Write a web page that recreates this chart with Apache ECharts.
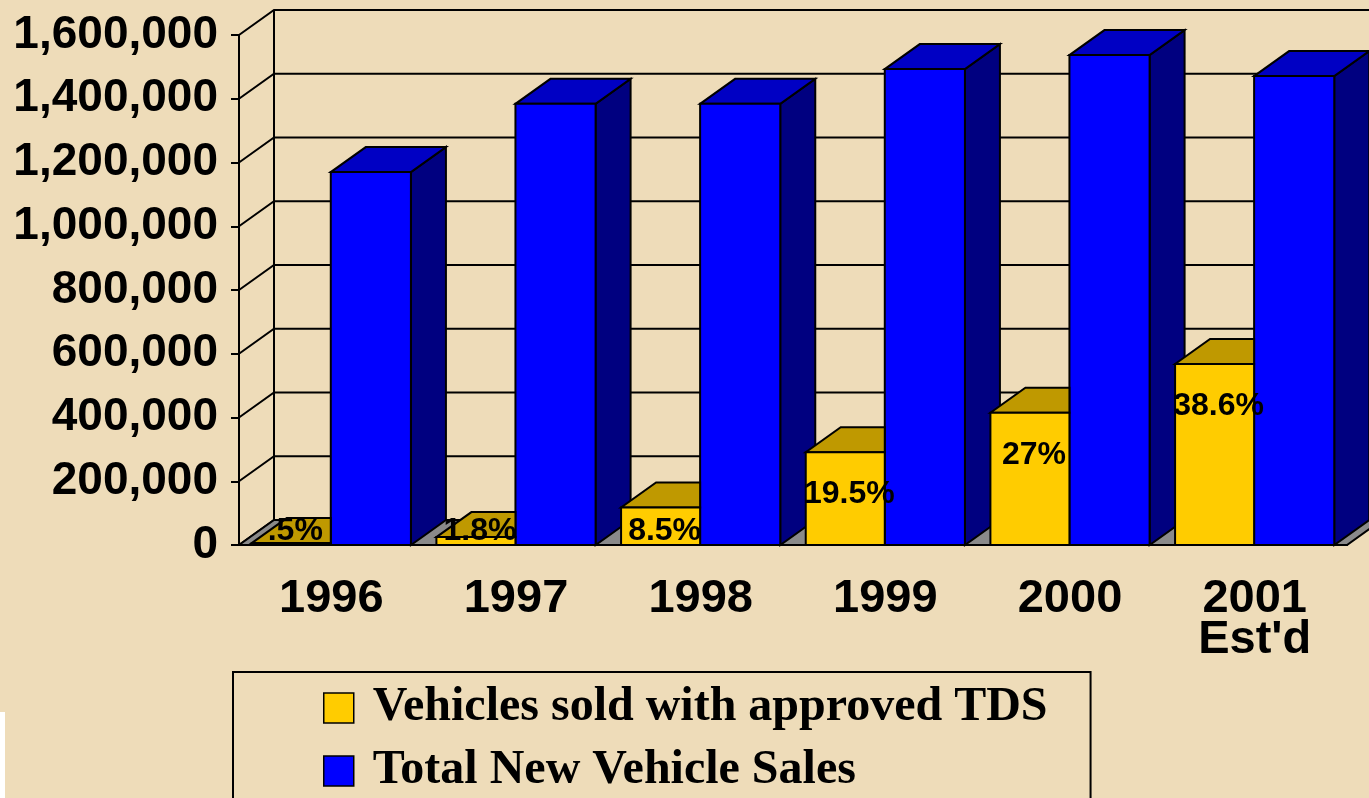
<!DOCTYPE html>
<html>
<head>
<meta charset="utf-8">
<script src="https://cdn.jsdelivr.net/npm/echarts@6/dist/echarts.min.js"></script>
<style>
  html, body { margin: 0; padding: 0; background: #eedcb9; }
  #chart { width: 1369px; height: 798px; }
</style>
</head>
<body>
<div id="chart"></div>
<script>
const years = ["1996", "1997", "1998", "1999", "2000", "2001\nEst'd"];
const totalSales = [1170000, 1384000, 1384000, 1493000, 1537000, 1471000];
const tdsSales = [5900, 24900, 117600, 291000, 415000, 568000];
const tdsShare = [".5%", "1.8%", "8.5%", "19.5%", "27%", "38.6%"];
const yTicks = [0, 200000, 400000, 600000, 800000, 1000000, 1200000, 1400000, 1600000];

// oblique depth of the 3d box
const DX = 35;
const DY = -25;

const chart = echarts.init(document.getElementById("chart"));

function barGeom(api, f0, f1) {
  const i = api.value(0);
  const base = api.coord([i, 0]);
  const top = api.coord([i, api.value(1)]);
  const bw = api.size([1, 0])[0];
  const start = base[0] - bw / 2;
  return { x1: start + f0 * bw, x2: start + f1 * bw, y0: base[1], y1: top[1] };
}

const edge = { stroke: "#000", lineWidth: 2 };

const option = {
  backgroundColor: "#eedcb9",
  animation: false,
  grid: { left: 239, right: 22, top: 35, height: 510 },
  legend: {
    left: 233,
    top: 672,
    height: 300,
    orient: "vertical",
    icon: "rect",
    itemWidth: 30,
    itemHeight: 30,
    itemGap: 15,
    padding: [12, 43, 50, 90],
    borderColor: "#000",
    borderWidth: 2,
    itemStyle: { borderColor: "#000", borderWidth: 1.5 },
    textStyle: {
      fontFamily: "Liberation Serif",
      fontWeight: "bold",
      fontSize: 48,
      color: "#000",
      padding: [0, 0, 0, 14],
    },
    data: ["Vehicles sold with approved TDS", "Total New Vehicle Sales"],
  },
  xAxis: {
    type: "category",
    data: years,
    axisLine: { lineStyle: { color: "#000", width: 2 } },
    axisTick: { length: 8, interval: 0, lineStyle: { color: "#000", width: 2 } },
    axisLabel: {
      interval: 0,
      margin: 34,
      color: "#000",
      fontFamily: "Liberation Sans",
      fontWeight: "bold",
      fontSize: 47,
      lineHeight: 41,
    },
  },
  yAxis: {
    type: "value",
    min: 0,
    max: 1600000,
    interval: 200000,
    splitLine: { show: false },
    axisLine: { show: true, lineStyle: { color: "#000", width: 2 } },
    axisTick: { show: true, length: 8, lineStyle: { color: "#000", width: 2 } },
    axisLabel: {
      margin: 21,
      padding: [6, 0, 0, 0],
      color: "#000",
      fontFamily: "Liberation Sans",
      fontWeight: "bold",
      fontSize: 46,
      formatter: (v) => v.toLocaleString("en-US"),
    },
  },
  series: [
    {
      name: "walls",
      type: "custom",
      z: 1,
      clip: false,
      silent: true,
      data: yTicks.map((v) => [0, v]),
      renderItem: (params, api) => {
        const cs = params.coordSys;
        const y = api.coord([0, api.value(1)])[1];
        const x0 = cs.x;
        const x1 = cs.x + cs.width;
        return {
          type: "polyline",
          shape: { points: [[x0, y], [x0 + DX, y + DY], [x1 + DX, y + DY]] },
          style: { stroke: "#000", lineWidth: 2, fill: null },
        };
      },
    },
    {
      name: "floor",
      type: "custom",
      z: 2,
      clip: false,
      silent: true,
      data: [[0, 0]],
      renderItem: (params, api) => {
        const cs = params.coordSys;
        const y0 = api.coord([0, 0])[1];
        const yTop = api.coord([0, yTicks[yTicks.length - 1]])[1];
        const x0 = cs.x;
        const x1 = cs.x + cs.width;
        return {
          type: "group",
          children: [
            {
              type: "line",
              shape: { x1: x0 + DX, y1: yTop + DY, x2: x0 + DX, y2: y0 + DY },
              style: { stroke: "#000", lineWidth: 2 },
            },
            {
              type: "polygon",
              shape: { points: [[x0, y0], [x1, y0], [x1 + DX, y0 + DY], [x0 + DX, y0 + DY]] },
              style: Object.assign({ fill: "#8a8a8a" }, edge),
            },
          ],
        };
      },
    },
    {
      name: "Total New Vehicle Sales",
      type: "custom",
      z: 3,
      clip: false,
      itemStyle: { color: "#0000ff" },
      data: totalSales.map((v, i) => [i, v]),
      renderItem: (params, api) => {
        const g = barGeom(api, 0.497, 0.931);
        return {
          type: "group",
          children: [
            {
              type: "polygon",
              shape: { points: [[g.x2, g.y1], [g.x2 + DX, g.y1 + DY], [g.x2 + DX, g.y0 + DY], [g.x2, g.y0]] },
              style: Object.assign({ fill: "#000080" }, edge),
            },
            {
              type: "polygon",
              shape: { points: [[g.x1, g.y1], [g.x2, g.y1], [g.x2 + DX, g.y1 + DY], [g.x1 + DX, g.y1 + DY]] },
              style: Object.assign({ fill: "#0000c4" }, edge),
            },
            {
              type: "rect",
              shape: { x: g.x1, y: g.y1, width: g.x2 - g.x1, height: g.y0 - g.y1 },
              style: Object.assign({ fill: "#0000ff" }, edge),
            },
          ],
        };
      },
    },
    {
      name: "Vehicles sold with approved TDS",
      type: "custom",
      z: 4,
      clip: false,
      itemStyle: { color: "#ffcc00" },
      data: tdsSales.map((v, i) => [i, v]),
      renderItem: (params, api) => {
        const g = barGeom(api, 0.069, 0.497);
        const labelY = Math.min(g.y1 + 42, g.y0 - 14);
        return {
          type: "group",
          children: [
            {
              type: "polygon",
              shape: { points: [[g.x1, g.y1], [g.x2, g.y1], [g.x2, g.y1 + DY], [g.x1 + DX, g.y1 + DY]] },
              style: Object.assign({ fill: "#bf9900" }, edge),
            },
            {
              type: "rect",
              shape: { x: g.x1, y: g.y1, width: g.x2 - g.x1, height: g.y0 - g.y1 },
              style: Object.assign({ fill: "#ffcc00" }, edge),
            },
            {
              type: "text",
              x: (g.x1 + g.x2) / 2 + 4,
              y: labelY,
              style: {
                text: tdsShare[params.dataIndex],
                fill: "#000",
                fontFamily: "Liberation Sans",
                fontWeight: "bold",
                fontSize: 32,
                align: "center",
                verticalAlign: "middle",
              },
            },
          ],
        };
      },
    },
  ],
  graphic: [
    { type: "rect", left: 0, top: 712, shape: { width: 5, height: 86 }, style: { fill: "#fff" }, silent: true },
  ],
};

chart.setOption(option);
</script>
</body>
</html>
